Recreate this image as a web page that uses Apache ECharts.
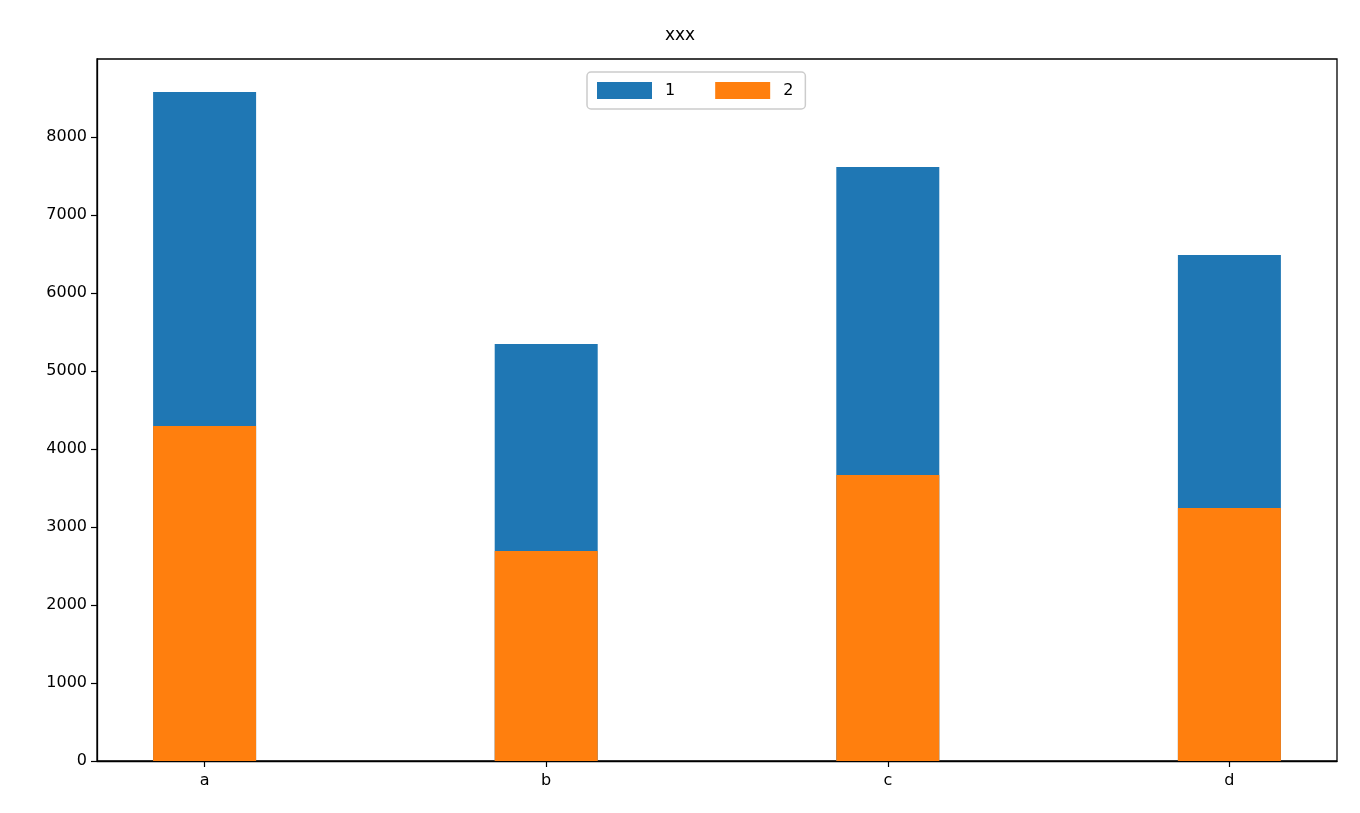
<!DOCTYPE html>
<html><head><meta charset="utf-8">
<script src="https://cdn.jsdelivr.net/npm/echarts@6/dist/echarts.min.js"></script>
<style>html,body{margin:0;padding:0;background:#fff}#c{width:1360px;height:813px}</style>
</head><body><div id="c"></div>
<script>
const categories = ['a','b','c','d'];
const series2 = [4295, 2692, 3667, 3244];
const series1 = [4282, 2654, 3948, 3243];
const yTicks = [0,1000,2000,3000,4000,5000,6000,7000,8000];
const F = 'DejaVu Sans, sans-serif';
const pos = categories.map((c,i)=>i);
const chart = echarts.init(document.getElementById('c'));
chart.setOption({
  animation:false,
  title:{text:'xxx',left:'center',top:22,textStyle:{fontFamily:F,fontSize:17,fontWeight:'normal',color:'#000'}},
  legend:{top:72,left:587,itemWidth:55,itemHeight:17,itemGap:40,padding:[10,12,10,10],
    borderColor:'#ccc',borderWidth:1.5,borderRadius:4,
    textStyle:{fontFamily:F,fontSize:16,color:'#000',padding:[0,0,0,8]},
    data:[{name:'1',icon:'rect'},{name:'2',icon:'rect'}]},
  grid:{left:97,right:23,top:59,bottom:52,show:true,borderColor:'#000',borderWidth:1.3,containLabel:false},
  xAxis:{type:'value',min:-0.315,max:3.315,splitLine:{show:false},
    axisLine:{show:true,onZero:false,lineStyle:{color:'#000',width:1.3}},
    axisTick:{show:true,customValues:pos,length:6,lineStyle:{color:'#000',width:1.2}},
    axisLabel:{customValues:pos,formatter:v=>categories[Math.round(v)],fontFamily:F,fontSize:16,color:'#000',margin:12}},
  yAxis:{type:'value',min:0,max:9000,splitLine:{show:false},
    axisLine:{show:true,onZero:false,lineStyle:{color:'#000',width:1.3}},
    axisTick:{show:true,customValues:yTicks,length:6,lineStyle:{color:'#000',width:1.2}},
    axisLabel:{customValues:yTicks,formatter:v=>String(v),fontFamily:F,fontSize:16,color:'#000',margin:10}},
  series:[
    {name:'1',type:'bar',barWidth:103,barGap:'-100%',z:1,itemStyle:{color:'#1f77b4'},
      data:series1.map((v,i)=>[pos[i],v+series2[i]])},
    {name:'2',type:'bar',barWidth:103,barGap:'-100%',z:2,itemStyle:{color:'#ff7f0e'},
      data:series2.map((v,i)=>[pos[i],v])}
  ]
});
</script></body></html>
